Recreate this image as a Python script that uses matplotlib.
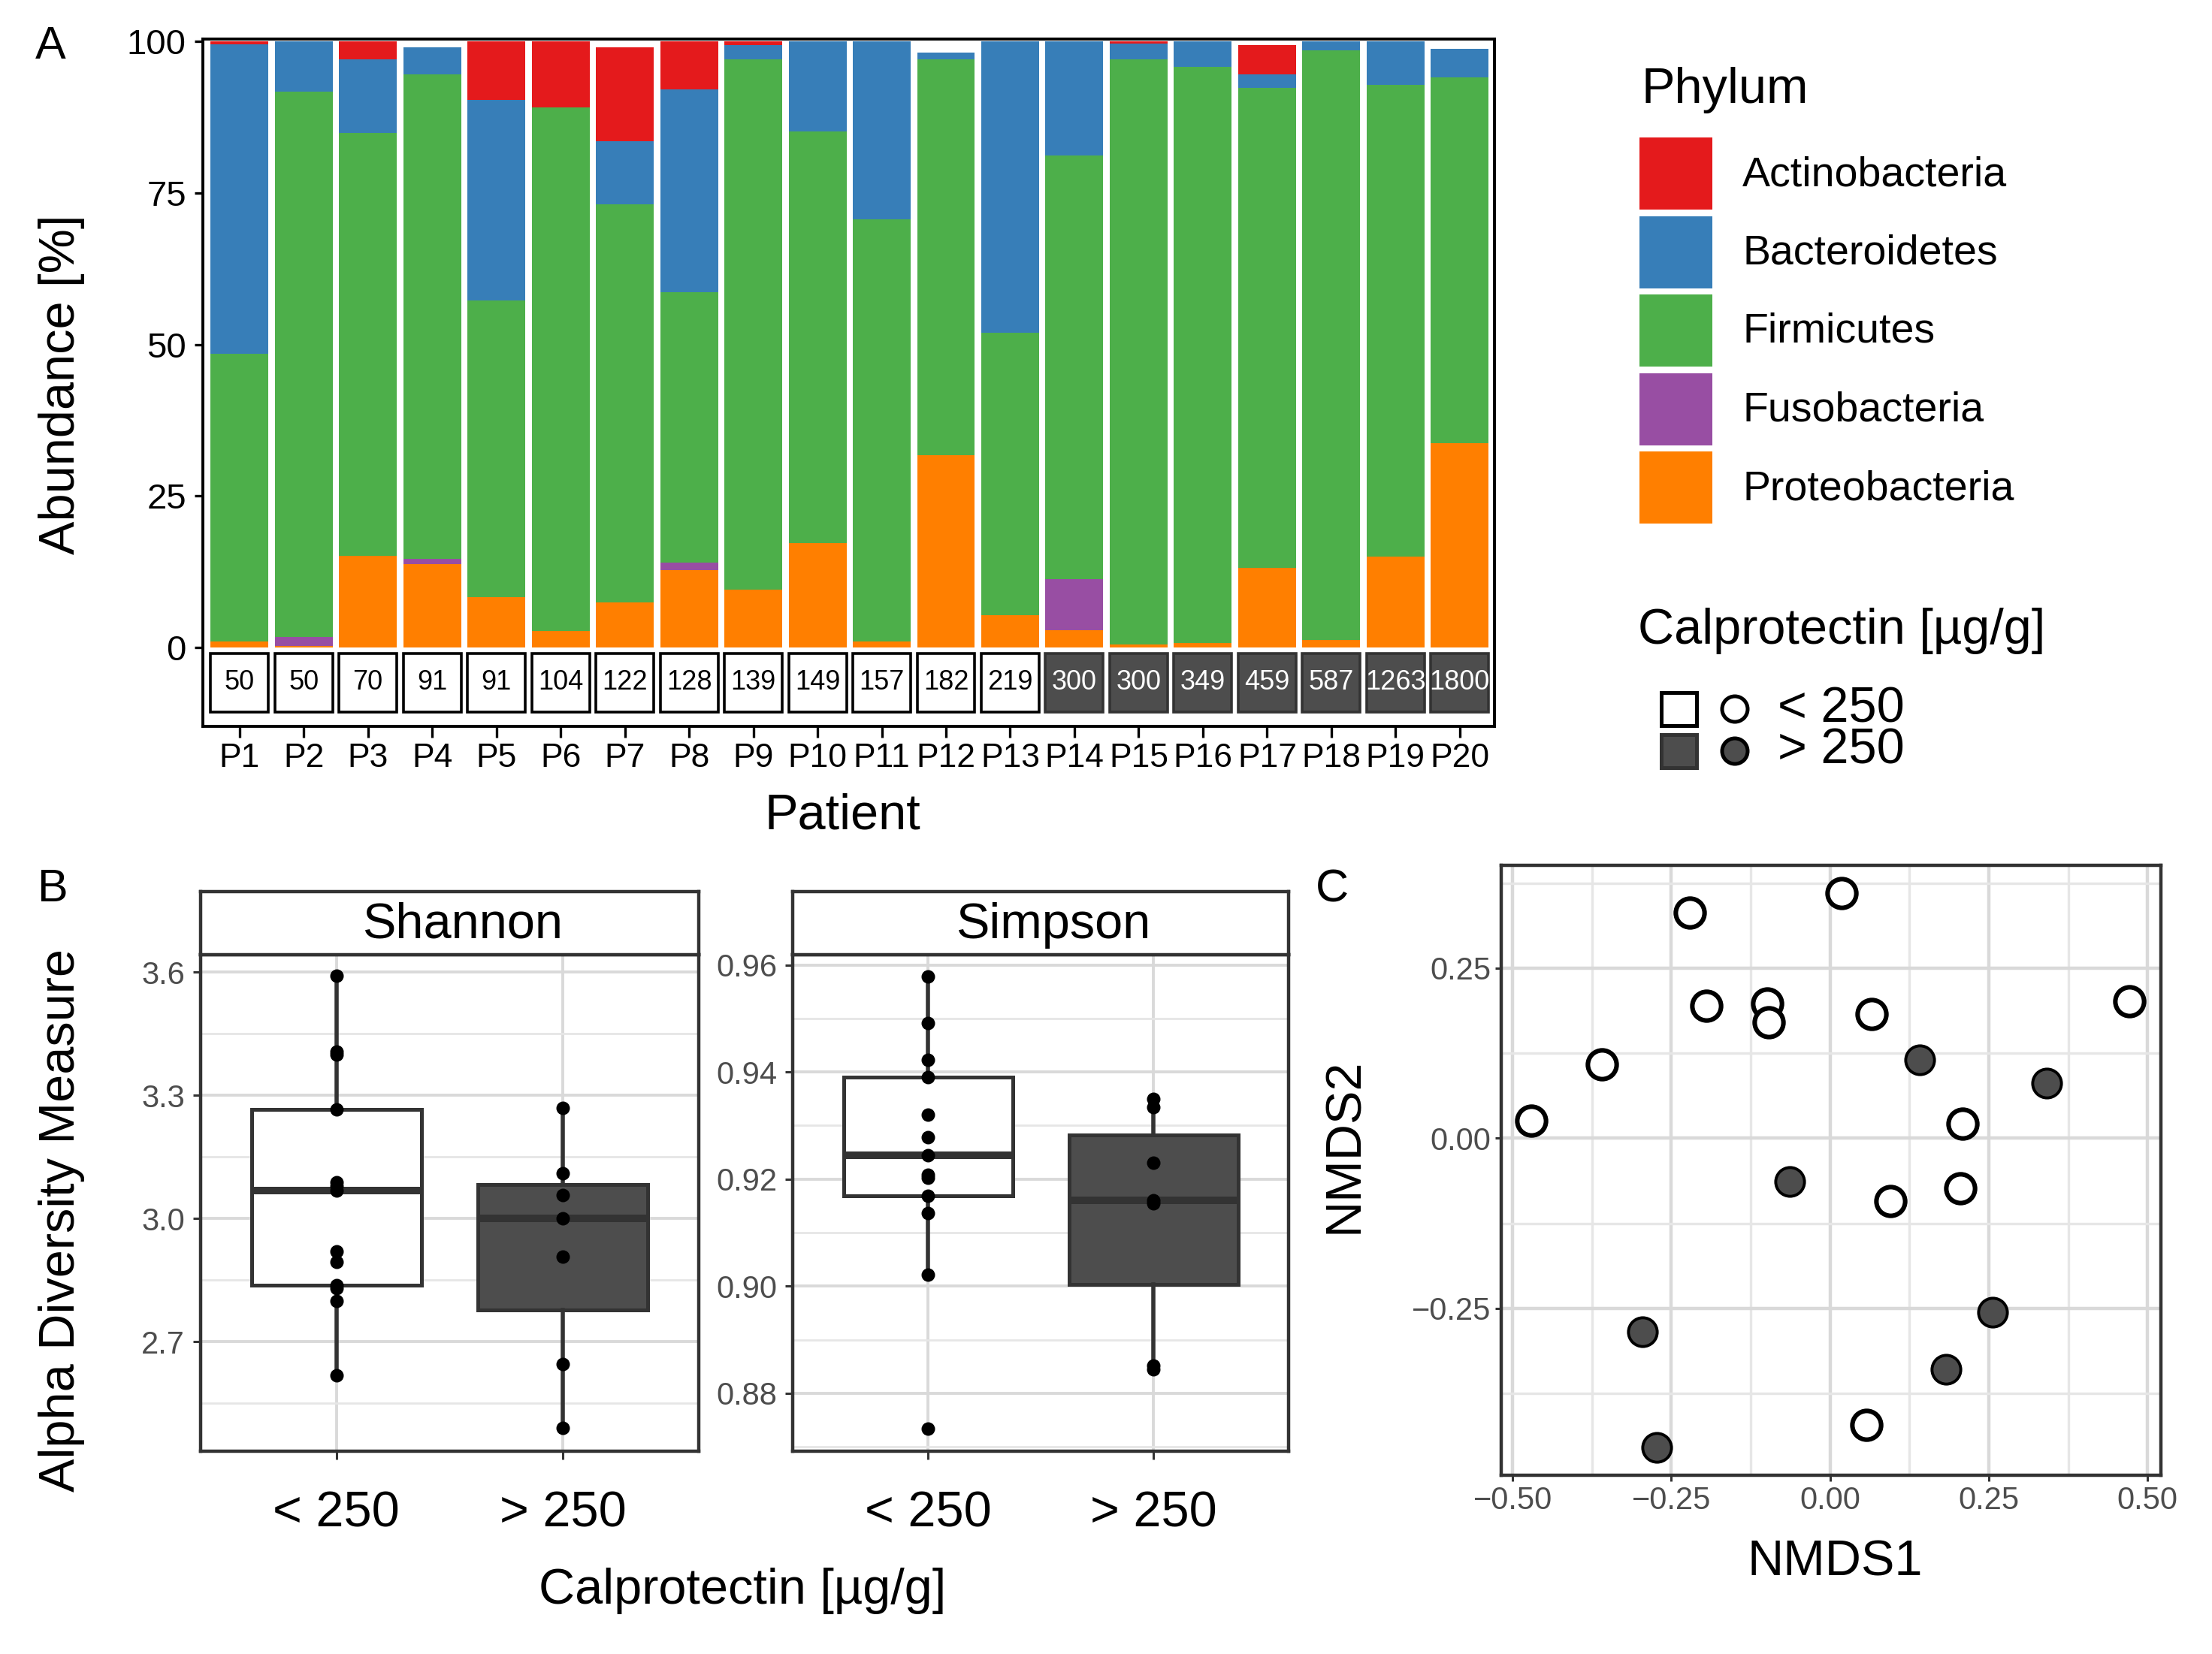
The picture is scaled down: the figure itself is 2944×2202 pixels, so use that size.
import matplotlib
matplotlib.use("Agg")
import matplotlib.pyplot as plt
import numpy as np
from matplotlib.patches import Rectangle, Circle
from matplotlib.ticker import FuncFormatter

plt.rcParams['font.family'] = ['Liberation Sans', 'DejaVu Sans']

# ---------------- data ----------------
patients = [f"P{i}" for i in range(1, 21)]
calprotectin = [50, 50, 70, 91, 91, 104, 122, 128, 139, 149, 157, 182, 219,
                300, 300, 349, 459, 587, 1263, 1800]
phyla = ["Actinobacteria", "Bacteroidetes", "Firmicutes", "Fusobacteria", "Proteobacteria"]
proteobacteria = [1.0, 0.2, 15.1, 13.8, 8.3, 2.8, 7.5, 12.8, 9.6, 17.2, 1.0, 31.7, 5.4,
                  2.9, 0.5, 0.8, 13.2, 1.3, 15.0, 33.7]
fusobacteria = [0, 1.5, 0, 0.8, 0, 0, 0, 1.2, 0, 0, 0, 0, 0,
                8.4, 0, 0, 0, 0, 0, 0]
firmicutes = [47.5, 90.0, 69.8, 80.0, 49.0, 86.3, 65.6, 44.6, 87.4, 68.0, 69.7, 65.3, 46.6,
              69.9, 96.5, 95.0, 79.1, 97.3, 77.8, 60.4]
bacteroidetes = [51.0, 8.3, 12.1, 4.4, 33.0, 0, 10.5, 33.5, 2.4, 14.8, 29.3, 1.2, 48.0,
                 18.8, 2.6, 4.2, 2.3, 1.4, 7.2, 4.7]
actinobacteria = [0.5, 0, 3.0, 0, 9.7, 10.9, 15.4, 7.9, 0.6, 0, 0, 0, 0,
                  0, 0.4, 0, 4.8, 0, 0, 0]

groups = ["< 250", "> 250"]
shannon_low = [3.591, 3.407, 3.40, 3.266, 3.088, 3.08, 3.068, 2.92, 2.895, 2.837, 2.83, 2.80, 2.618]
shannon_high = [3.27, 3.11, 3.057, 3.0, 2.908, 2.646, 2.49]
simpson_low = [0.9579, 0.9492, 0.9423, 0.9391, 0.932, 0.9278, 0.9245, 0.9208, 0.9202,
               0.9169, 0.9136, 0.9022, 0.8734]
simpson_high = [0.935, 0.9335, 0.923, 0.9161, 0.9155, 0.8852, 0.8845]

nmds1_low = [-0.471, -0.360, -0.221, -0.195, -0.099, -0.097, 0.018, 0.065, 0.471, 0.209, 0.205, 0.095, 0.057]
nmds2_low = [0.026, 0.109, 0.332, 0.195, 0.198, 0.170, 0.360, 0.183, 0.201, 0.021, -0.074, -0.092, -0.421]
nmds1_high = [0.141, 0.341, -0.064, 0.256, -0.295, 0.182, -0.273]
nmds2_high = [0.115, 0.081, -0.063, -0.256, -0.284, -0.339, -0.454]

# ---------------- style ----------------
phylum_colors = {"Actinobacteria": "#E41A1C", "Bacteroidetes": "#377EB8",
                 "Firmicutes": "#4DAF4A", "Fusobacteria": "#984EA3",
                 "Proteobacteria": "#FF7F00"}
DARK = "#4d4d4d"
EDGE = "#333333"
GRID_MAJ = "#d9d9d9"
GRID_MIN = "#e6e6e6"

W, H = 2944, 2202
fig = plt.figure(figsize=(W / 200, H / 200), dpi=200)


def rect(l, t, r, b):
    return [l / W, 1 - b / H, (r - l) / W, (b - t) / H]


def ftext(x, y, s, **kw):
    fig.text(x / W, 1 - y / H, s, **kw)


# ---------------- Panel A ----------------
axA = fig.add_axes(rect(270, 52, 1989, 967))
x = np.arange(len(patients))
layers = [("Proteobacteria", proteobacteria), ("Fusobacteria", fusobacteria),
          ("Firmicutes", firmicutes), ("Bacteroidetes", bacteroidetes),
          ("Actinobacteria", actinobacteria)]
bottom = np.zeros(len(patients))
for name, vals in layers:
    v = np.asarray(vals, float)
    axA.bar(x, v, bottom=bottom, width=0.9, color=phylum_colors[name], linewidth=0)
    bottom += v

high = np.asarray(calprotectin) > 250
axA.bar(x, 9.6, bottom=-10.6, width=0.9,
        color=[DARK if h else "white" for h in high],
        edgecolor=[EDGE if h else "black" for h in high], linewidth=1.3)
for xi, val, h in zip(x, calprotectin, high):
    axA.text(xi, -5.8, str(val), ha="center", va="center", fontsize=13,
             color="white" if h else "black")

axA.set_xlim(-0.57, 19.54)
axA.set_ylim(-13.0, 100.4)
axA.set_xticks(x)
axA.set_xticklabels(patients)
axA.set_yticks([0, 25, 50, 75, 100])
axA.tick_params(axis="x", labelsize=16, length=5.5, width=1.2, pad=2.5, colors="black")
axA.tick_params(axis="y", labelsize=17, length=4, width=1.2, pad=4, colors="black")
for sp in axA.spines.values():
    sp.set_linewidth(1.4)
    sp.set_color("black")

ftext(82, 512, "Abundance [%]", rotation=90, ha="center", va="center", fontsize=24)
ftext(1121, 1087, "Patient", ha="center", va="center", fontsize=24)
ftext(67, 62, "A", ha="center", va="center", fontsize=22)

# ---------------- Panel B ----------------
def alpha_panel(axrect, striprect, low, high_vals, ylim, major, minor, fmt, title):
    ax = fig.add_axes(axrect)
    ax.set_axisbelow(True)
    bp = ax.boxplot([low, high_vals], positions=[1, 2], widths=0.75, patch_artist=True,
                    showfliers=False, showcaps=False, whis=1.5,
                    boxprops=dict(edgecolor=EDGE, linewidth=1.8),
                    whiskerprops=dict(color=EDGE, linewidth=2.0),
                    medianprops=dict(color=EDGE, linewidth=3.6))
    for patch, fc in zip(bp["boxes"], ["white", DARK]):
        patch.set_facecolor(fc)
    for pos, vals in zip([1, 2], [low, high_vals]):
        ax.scatter(np.full(len(vals), pos), vals, s=42, color="black", zorder=4, linewidths=0)
    ax.set_xlim(0.4, 2.6)
    ax.set_ylim(*ylim)
    ax.set_yticks(major)
    ax.set_yticks(minor, minor=True)
    ax.yaxis.set_major_formatter(FuncFormatter(lambda v, p: fmt.format(v)))
    ax.set_xticks([1, 2])
    ax.set_xticklabels(groups)
    ax.grid(which="major", color=GRID_MAJ, linewidth=1.4)
    ax.grid(which="minor", axis="y", color=GRID_MIN, linewidth=1.0)
    ax.tick_params(axis="y", which="major", labelsize=15, length=3.5, width=1.1, pad=4,
                   colors=EDGE, labelcolor="#4d4d4d")
    ax.tick_params(axis="y", which="minor", length=0)
    ax.tick_params(axis="x", labelsize=24, length=4, width=1.1, pad=15, colors=EDGE,
                   labelcolor="black")
    for sp in ax.spines.values():
        sp.set_linewidth(1.6)
        sp.set_color(EDGE)
    st = fig.add_axes(striprect)
    st.set_xticks([])
    st.set_yticks([])
    for sp in st.spines.values():
        sp.set_linewidth(1.6)
        sp.set_color(EDGE)
    st.text(0.525, 0.47, title, ha="center", va="center", fontsize=24, transform=st.transAxes)
    return ax


alpha_panel(rect(267, 1271, 930, 1932), rect(267, 1187, 930, 1271),
            shannon_low, shannon_high, (2.433, 3.643),
            [2.7, 3.0, 3.3, 3.6], [2.55, 2.85, 3.15, 3.45], "{:.1f}", "Shannon")
alpha_panel(rect(1055, 1271, 1715, 1932), rect(1055, 1187, 1715, 1271),
            simpson_low, simpson_high, (0.8692, 0.9619),
            [0.88, 0.90, 0.92, 0.94, 0.96], [0.87, 0.89, 0.91, 0.93, 0.95], "{:.2f}", "Simpson")

ftext(82, 1625, "Alpha Diversity Measure", rotation=90, ha="center", va="center", fontsize=24)
ftext(988, 2118, "Calprotectin [µg/g]", ha="center", va="center", fontsize=24)
ftext(70, 1184, "B", ha="center", va="center", fontsize=22)

# ---------------- Panel C ----------------
axC = fig.add_axes(rect(1998, 1152, 2876, 1964))
axC.set_axisbelow(True)
axC.scatter(nmds1_low, nmds2_low, s=190, facecolor="white", edgecolor="black",
            linewidths=2.2, zorder=3)
axC.scatter(nmds1_high, nmds2_high, s=190, facecolor=DARK, edgecolor="black",
            linewidths=1.4, zorder=3)
axC.set_xlim(-0.518, 0.521)
axC.set_ylim(-0.495, 0.401)
axC.set_xticks([-0.5, -0.25, 0, 0.25, 0.5])
axC.set_xticks([-0.375, -0.125, 0.125, 0.375], minor=True)
axC.set_yticks([-0.25, 0, 0.25])
axC.set_yticks([-0.375, -0.125, 0.125, 0.375], minor=True)
fmtC = FuncFormatter(lambda v, p: f"{v:.2f}".replace("-", "\u2212"))
axC.xaxis.set_major_formatter(fmtC)
axC.yaxis.set_major_formatter(fmtC)
axC.grid(which="major", color=GRID_MAJ, linewidth=1.6)
axC.grid(which="minor", color=GRID_MIN, linewidth=1.2)
axC.tick_params(which="major", labelsize=15, length=3, width=1.1, pad=2,
                colors=EDGE, labelcolor="#4d4d4d")
axC.tick_params(which="minor", length=0)
for sp in axC.spines.values():
    sp.set_linewidth(1.6)
    sp.set_color(EDGE)

ftext(2442, 2080, "NMDS1", ha="center", va="center", fontsize=24)
ftext(1790, 1525, "NMDS2", rotation=90, ha="center", va="center", fontsize=24)
ftext(1773, 1185, "C", ha="center", va="center", fontsize=22)

# ---------------- Legends (overlay in pixel units) ----------------
ov = fig.add_axes([0, 0, 1, 1], zorder=10)
ov.set_xlim(0, W)
ov.set_ylim(H, 0)
ov.axis("off")

ov.text(2185, 137, "Phylum", ha="left", va="baseline", fontsize=24)
for i, name in enumerate(phyla):
    top = 183 + i * 104.5
    ov.add_patch(Rectangle((2182, top), 97, 96, facecolor=phylum_colors[name], edgecolor="none"))
    ov.text(2319, top + 50, name, ha="left", va="center", fontsize=20)

ov.text(2180, 857, "Calprotectin [µg/g]", ha="left", va="baseline", fontsize=24)
for i, (fc, ec) in enumerate([("white", "black"), (DARK, EDGE)]):
    cy = 944 + i * 56
    ov.add_patch(Rectangle((2211, cy - 22), 47, 44, facecolor=fc, edgecolor=ec, linewidth=1.8))
    ov.add_patch(Circle((2309, cy), 17, facecolor=fc, edgecolor="black", linewidth=1.8))
# both key labels as one two-line text block (tight line spacing as in the reference)
ov.text(2366, 972, "\n".join(groups), ha="left", va="center", fontsize=24, linespacing=0.86)

fig.savefig("out.png", dpi=200)
